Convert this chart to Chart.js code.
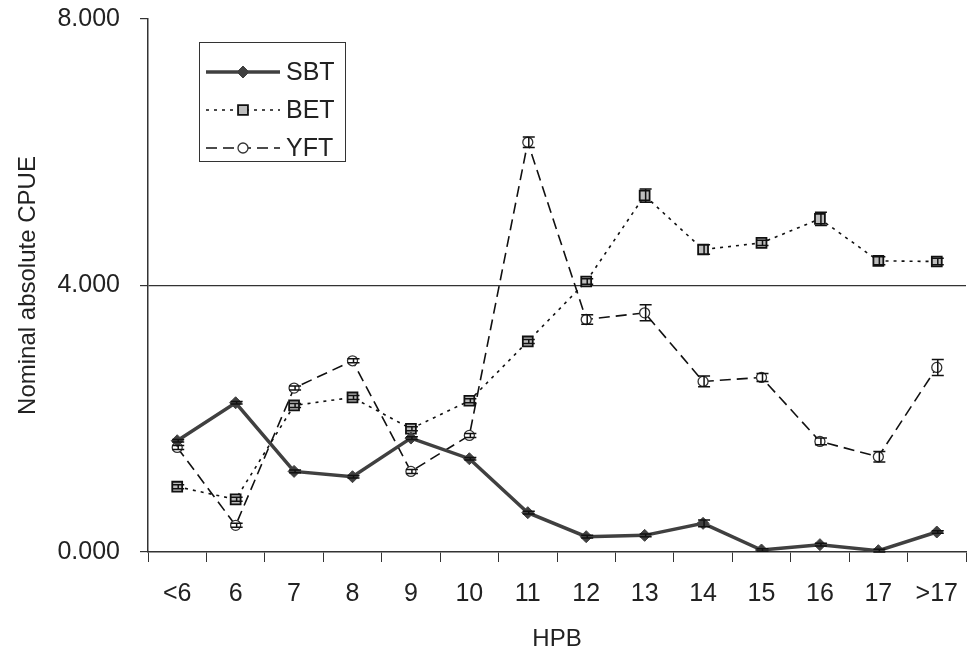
<!DOCTYPE html>
<html lang="en">
<head>
  <meta charset="UTF-8">
  <title>Nominal absolute CPUE by HPB</title>
  <script src="https://cdn.jsdelivr.net/npm/chart.js"></script>
  <style>
    html, body { margin: 0; padding: 0; background: #fff; overflow: hidden; }
    canvas { display: block; }
  </style>
</head>
<body>
<canvas id="myChart" width="969" height="664"></canvas>

<script>
  // data
  var hpbLabels = ['<6', '6', '7', '8', '9', '10', '11', '12', '13', '14', '15', '16', '17', '>17'];
  var sbtValues = [1.67, 2.24, 1.21, 1.13, 1.71, 1.40, 0.59, 0.23, 0.25, 0.43, 0.03, 0.11, 0.02, 0.30];
  var betValues = [0.98, 0.79, 2.20, 2.32, 1.85, 2.27, 3.16, 4.06, 5.35, 4.54, 4.64, 5.00, 4.37, 4.36];
  var yftValues = [1.57, 0.40, 2.46, 2.87, 1.21, 1.75, 6.15, 3.49, 3.59, 2.56, 2.62, 1.66, 1.43, 2.77];
  // error bar half widths
  var sbtErrors = [0.02, 0.02, 0.02, 0.02, 0.02, 0.02, 0.02, 0.02, 0.02, 0.05, 0.02, 0.02, 0.02, 0.02];
  var betErrors = [0.03, 0.03, 0.03, 0.03, 0.03, 0.03, 0.03, 0.04, 0.10, 0.07, 0.04, 0.10, 0.06, 0.05];
  var yftErrors = [0.03, 0.03, 0.03, 0.03, 0.03, 0.03, 0.08, 0.07, 0.12, 0.08, 0.06, 0.05, 0.08, 0.12];
  var yTicks = [0, 4, 8];

  var fontFamily = '"Liberation Sans", Arial, sans-serif';
  var textColor = '#222';
  var axisColor = '#333';

  // error bars drawn on top of the markers
  var errorBars = {
    id: 'errorBars',
    afterDatasetsDraw: function(chart) {
      var ctx = chart.ctx;
      var y = chart.scales.y;
      chart.data.datasets.forEach(function(ds, i) {
        var meta = chart.getDatasetMeta(i);
        ctx.save();
        ctx.strokeStyle = '#111';
        ctx.lineWidth = 1.5;
        meta.data.forEach(function(pt, j) {
          var e = ds.errors[j];
          var top = y.getPixelForValue(ds.data[j] + e);
          var bot = y.getPixelForValue(ds.data[j] - e);
          var x = pt.x + 1;
          ctx.beginPath();
          ctx.moveTo(x, top); ctx.lineTo(x, bot);
          ctx.moveTo(x - 6, top); ctx.lineTo(x + 6, top);
          ctx.moveTo(x - 6, bot); ctx.lineTo(x + 6, bot);
          ctx.stroke();
        });
        ctx.restore();
      });
    }
  };

  // boxed legend inside the plot, top left
  var boxLegend = {
    id: 'boxLegend',
    afterDraw: function(chart) {
      var ctx = chart.ctx;
      var bx = 199, by = 42, bw = 146, bh = 119;
      ctx.save();
      ctx.fillStyle = '#fff';
      ctx.fillRect(bx, by, bw, bh);
      ctx.strokeStyle = axisColor;
      ctx.lineWidth = 1;
      ctx.strokeRect(bx + 0.5, by + 0.5, bw, bh);
      chart.data.datasets.forEach(function(ds, i) {
        var cy = 72 + i * 38;
        ctx.save();
        ctx.strokeStyle = ds.borderColor;
        ctx.lineWidth = ds.borderWidth;
        ctx.setLineDash(ds.borderDash || []);
        ctx.beginPath();
        ctx.moveTo(206, cy); ctx.lineTo(280, cy);
        ctx.stroke();
        ctx.restore();
        ctx.save();
        ctx.fillStyle = ds.pointBackgroundColor;
        ctx.strokeStyle = ds.pointBorderColor;
        ctx.lineWidth = ds.pointBorderWidth;
        Chart.helpers.drawPoint(ctx, { pointStyle: ds.pointStyle, radius: ds.pointRadius, borderWidth: ds.pointBorderWidth }, 243, cy);
        ctx.restore();
        ctx.fillStyle = textColor;
        ctx.font = '25px ' + fontFamily;
        ctx.textBaseline = 'middle';
        ctx.fillText(ds.label, 286, cy + 1);
      });
      ctx.restore();
    }
  };

  var ctx = document.getElementById('myChart').getContext('2d');
  var myChart = new Chart(ctx, {
    type: 'line',
    data: {
      labels: hpbLabels,
      datasets: [{
        label: 'SBT',
        data: sbtValues,
        errors: sbtErrors,
        borderColor: '#404040',
        borderWidth: 3.5,
        pointStyle: 'rectRot',
        pointRadius: 6,
        pointBackgroundColor: '#404040',
        pointBorderColor: '#404040',
        pointBorderWidth: 1
      }, {
        label: 'BET',
        data: betValues,
        errors: betErrors,
        borderColor: '#111',
        borderWidth: 1.6,
        borderDash: [3, 5],
        pointStyle: 'rect',
        pointRadius: 7,
        pointBackgroundColor: '#bdbdbd',
        pointBorderColor: '#111',
        pointBorderWidth: 1.8
      }, {
        label: 'YFT',
        data: yftValues,
        errors: yftErrors,
        borderColor: '#111',
        borderWidth: 1.6,
        borderDash: [11, 6],
        pointStyle: 'circle',
        pointRadius: 5,
        pointBackgroundColor: '#fff',
        pointBorderColor: '#333',
        pointBorderWidth: 1.3
      }]
    },
    options: {
      responsive: false,
      animation: false,
      layout: { autoPadding: false, padding: { top: 19, right: 3, left: 0, bottom: 0 } },
      elements: { line: { tension: 0, fill: false } },
      plugins: {
        legend: { display: false },
        tooltip: { enabled: false }
      },
      scales: {
        x: {
          offset: true,
          afterFit: function(scale) {
            scale.height = 112;
            scale.paddingLeft = 0;
            scale.paddingRight = 0;
          },
          grid: {
            offset: true,
            drawOnChartArea: false,
            tickLength: 10,
            tickColor: axisColor,
            tickWidth: 1
          },
          border: { color: axisColor, width: 1.5 },
          ticks: {
            color: textColor,
            padding: 6,
            maxRotation: 0,
            autoSkip: false,
            font: { family: fontFamily, size: 25, lineHeight: 2.1 }
          },
          title: {
            display: true,
            text: 'HPB',
            color: textColor,
            font: { family: fontFamily, size: 24 },
            padding: { top: 0, bottom: 10 }
          }
        },
        y: {
          min: 0,
          max: 8,
          afterFit: function(scale) {
            scale.width = 148;
            scale.paddingTop = 0;
            scale.paddingBottom = 0;
          },
          afterBuildTicks: function(scale) {
            scale.ticks = yTicks.map(function(v) { return { value: v }; });
          },
          grid: {
            color: function(c) { return c.tick && c.tick.value === 4 ? axisColor : 'rgba(0,0,0,0)'; },
            lineWidth: 1.2,
            tickLength: 8,
            tickColor: axisColor
          },
          border: { color: axisColor, width: 1.5 },
          ticks: {
            color: textColor,
            padding: 20,
            font: { family: fontFamily, size: 25 },
            callback: function(v) { return Number(v).toFixed(3); }
          },
          title: {
            display: true,
            text: 'Nominal absolute CPUE',
            color: textColor,
            font: { family: fontFamily, size: 24 },
            padding: { top: 14, bottom: 0 }
          }
        }
      }
    },
    plugins: [errorBars, boxLegend]
  });
</script>
</body>
</html>
